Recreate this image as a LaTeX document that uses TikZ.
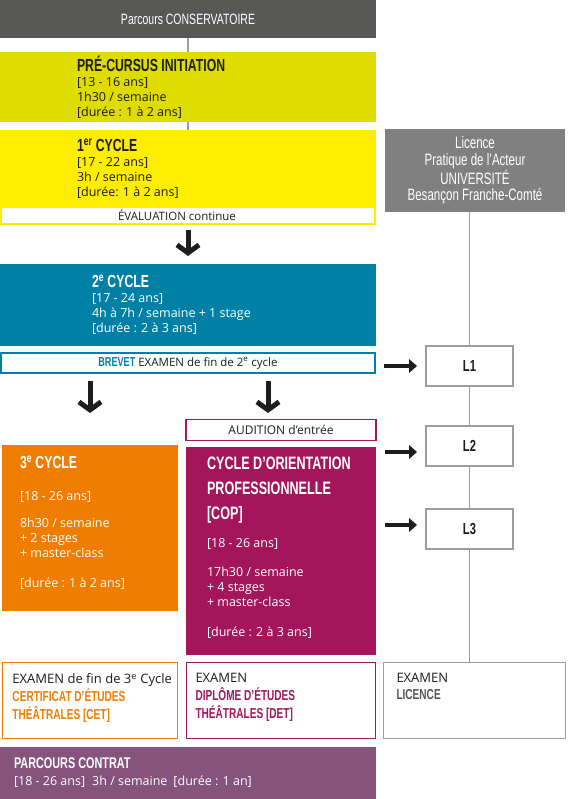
\documentclass[tikz,border=0pt]{standalone}
\usepackage{fontspec}
\setmainfont{Open Sans}
\newfontfamily\condfont[FakeStretch=0.7]{Liberation Sans}
\usetikzlibrary{arrows.meta, positioning, calc}
\definecolor{topgray}{RGB}{87,87,86}
\definecolor{precursus}{RGB}{222,220,0}
\definecolor{cycleyellow}{RGB}{255,237,0}
\definecolor{cycleteal}{RGB}{0,128,165}
\definecolor{cycleorange}{RGB}{239,125,0}
\definecolor{copmagenta}{RGB}{163,22,91}
\definecolor{contratpurple}{RGB}{134,82,126}
\definecolor{licgray}{RGB}{128,128,128}
\definecolor{linegray}{RGB}{157,157,156}
\definecolor{inkdark}{RGB}{29,29,27}
\newcommand{\ttl}{\condfont\bfseries\fontsize{17.5}{19}\selectfont}
\newcommand{\ttlsmall}{\condfont\bfseries\fontsize{14.4}{16}\selectfont}

\begin{document}
\begin{tikzpicture}[x=1pt, y=-1pt,
    every node/.style={inner sep=0pt, outer sep=0pt},
    box/.style 2 args={minimum width=#1, minimum height=#2},
    txt/.style={align=left, text=inkdark, font=\fontsize{12.5}{15}\selectfont},
    strip/.style={fill=white, line width=1.5pt, text=inkdark, font=\fontsize{11.5}{13}\selectfont},
    lbox/.style={box={87}{40}, fill=white, draw=linegray, line width=1.2pt,
      text=inkdark, font=\condfont\bfseries\fontsize{16}{18}\selectfont},
    vline/.style={draw=linegray, line width=1.3pt},
    darrow/.style={draw=inkdark, line width=5pt, -{Straight Barb[length=8pt, width=22pt]}},
    rarrow/.style={draw=inkdark, line width=3.5pt, -{Triangle[length=8pt, width=14pt, line width=0pt]}}]
  \useasboundingbox (0,0) rectangle (567,799);

  % Conservatoire column
  \node[box={376}{38}, fill=topgray, text=white, font=\condfont\fontsize{15}{17}\selectfont]
    (top) at (188,19) {Parcours CONSERVATOIRE};
  \node[box={376}{70}, fill=precursus] (pre) at (188,87) {};
  \node[txt, right=77pt of pre.west] (pretxt)
    {{\ttl PRÉ-CURSUS INITIATION}\\{}[13 - 16 ans]\\1h30 / semaine\\{}[durée : 1 à 2 ans]};
  \node[box={376}{77}, fill=cycleyellow] (c1) at (188,168.5) {};
  \node[txt, right=77pt of c1.west] (c1txt)
    {{\ttl 1\textsuperscript{er} CYCLE}\\{}[17 - 22 ans]\\3h / semaine\\{}[durée: 1 à 2 ans]};
  \node[strip, box={374}{17}, draw=cycleyellow, line width=2pt,
    label={[xshift=-11pt, font=\fontsize{11.5}{13}\selectfont, text=inkdark]center:ÉVALUATION continue}]
    (eval) at (188,215.5) {};
  \draw[vline] (top) -- (pre);
  \draw[vline] (pre) -- (c1);

  \node[box={376}{82}, fill=cycleteal] (c2) at (188,305) {};
  \node[txt, text=white, right=92pt of c2.west] (c2txt)
    {{\ttl 2\textsuperscript{e} CYCLE}\\{}[17 - 24 ans]\\4h à 7h / semaine + 1 stage\\{}[durée : 2 à 3 ans]};
  \draw[darrow, shorten <=6pt, shorten >=8pt] (eval) -- (c2);

  \node[strip, box={374}{20}, draw=cycleteal] (brevet) at (188,363)
    {{\condfont\bfseries\fontsize{13}{14}\selectfont\color{cycleteal}BREVET} EXAMEN de fin de 2\textsuperscript{e} cycle};

  % branches
  \coordinate (dn1) at (90,413);
  \coordinate (dn2) at (268,413);
  \draw[darrow, shorten <=8pt] (brevet.south -| dn1) -- (dn1);
  \draw[darrow, shorten <=8pt] (brevet.south -| dn2) -- (dn2);
  \node[strip, box={190}{21}, draw=copmagenta, font=\fontsize{12}{14}\selectfont] (audition) at (281,430) {AUDITION d’entrée};

  \node[box={176}{166}, fill=cycleorange] (c3) at (90,528) {};
  \node[txt, text=white, below right=11pt and 18pt of c3.north west] (c3txt)
    {{\ttl 3\textsuperscript{e} CYCLE}\\[17pt]{}[18 - 26 ans]\\[12pt]8h30 / semaine\\+ 2 stages\\+ master-class\\[15pt]{}[durée : 1 à 2 ans]};
  \node[box={190}{208}, fill=copmagenta] (cop) at (281,551) {};
  \node[txt, text=white, below right=9.5pt and 21pt of cop.north west] (coptxt)
    {{\ttl\fontsize{18}{19}\selectfont CYCLE D’ORIENTATION}\\[10pt]{\ttl\fontsize{18}{19}\selectfont PROFESSIONNELLE}\\[10pt]{\ttl\fontsize{18}{19}\selectfont [COP]}\\[13pt]{}[18 - 26 ans]\\[14pt]17h30 / semaine\\+ 4 stages\\+ master-class\\[15pt]{}[durée : 2 à 3 ans]};

  % examens
  \node[box={175}{76}, fill=white, draw=cycleorange, line width=1.5pt] (cet) at (90,700.5) {};
  \node[txt, font=\fontsize{13}{18}\selectfont, below right=11pt and 10pt of cet.north west] (cettxt)
    {EXAMEN de fin de 3\textsuperscript{e} Cycle\\{\ttlsmall\color{cycleorange}CERTIFICAT D’ÉTUDES}\\{\ttlsmall\color{cycleorange}THÉÂTRALES [CET]}};
  \node[box={189}{76}, fill=white, draw=copmagenta, line width=1.5pt] (det) at (281,700.5) {};
  \node[txt, font=\fontsize{13}{18}\selectfont, below right=11pt and 9pt of det.north west] (dettxt)
    {EXAMEN\\{\ttlsmall\color{copmagenta}DIPLÔME D’ÉTUDES}\\{\ttlsmall\color{copmagenta}THÉÂTRALES [DET]}};
  \node[box={182}{76}, fill=white, draw=linegray, line width=1.3pt] (exlic) at (474.5,700.5) {};
  \node[txt, font=\fontsize{13}{17}\selectfont, below right=11pt and 13pt of exlic.north west] (exlictxt)
    {EXAMEN\\{\ttlsmall\color{topgray}LICENCE}};

  \node[box={376}{52}, fill=contratpurple] (contrat) at (188,773) {};
  \node[txt, text=white, font=\fontsize{12.5}{17}\selectfont, right=14pt of contrat.west] (contrattxt)
    {{\condfont\bfseries\fontsize{15.5}{17}\selectfont PARCOURS CONTRAT}\\{}[18 - 26 ans]\hspace{7pt}3h / semaine\hspace{6pt}[durée : 1 an]};

  % Licence column
  \node[box={180}{83}, fill=licgray, text=white, align=center,
    font=\condfont\fontsize{16.5}{16.7}\selectfont] (lic) at (475,170.5)
    {Licence\\Pratique de l’Acteur\\UNIVERSITÉ\\Besançon Franche-Comté};
  \node[lbox] (L1) at (469.5,366) {L1};
  \node[lbox] (L2) at (469.5,446) {L2};
  \node[lbox] (L3) at (469.5,529) {L3};
  \draw[vline] (L1 |- lic.south) -- (L1);
  \draw[vline] (L1) -- (L2);
  \draw[vline] (L2) -- (L3);
  \draw[vline] (L3) -- (L3 |- exlic.north);

  \coordinate (r2) at (417,452);
  \coordinate (r3) at (417,525);
  \draw[rarrow, shorten <=9pt, shorten >=9pt] (brevet.east |- L1) -- (L1.west);
  \draw[rarrow, shorten <=9pt] (cop.east |- r2) -- (r2);
  \draw[rarrow, shorten <=9pt] (cop.east |- r3) -- (r3);
\end{tikzpicture}
\end{document}
